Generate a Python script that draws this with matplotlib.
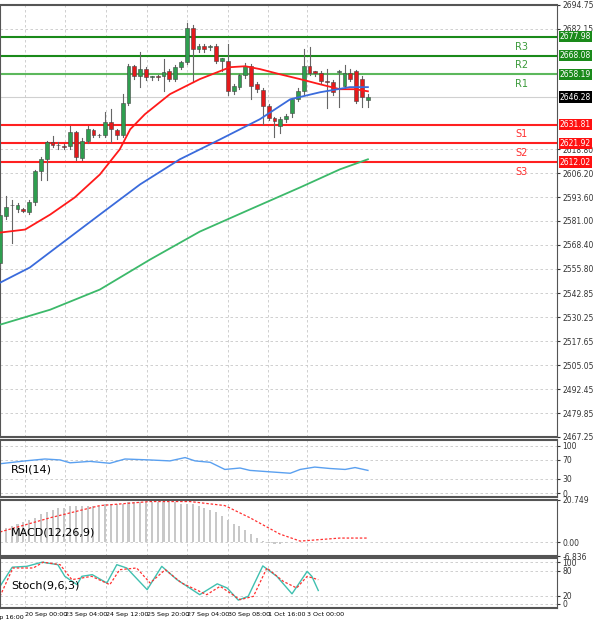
import numpy as np
import matplotlib.pyplot as plt
import matplotlib.transforms as mtransforms

# 蜡烛数据（4小时K线，按图读取）
opens = [2559.1, 2583.4, 2589.2, 2587.1, 2587.1, 2586.0, 2590.8, 2607.1, 2613.5, 2622.4, 2620.8, 2620.3,
         2620.3, 2627.7, 2614.0, 2623.0, 2628.8, 2626.1, 2626.1, 2633.0, 2628.8, 2626.1, 2643.0, 2662.5,
         2657.3, 2661.0, 2656.7, 2657.3, 2657.3, 2659.9, 2655.7, 2662.0, 2664.7, 2682.6, 2671.5, 2673.1,
         2672.6, 2673.1, 2665.2, 2665.2, 2649.3, 2651.5, 2657.8, 2662.5, 2653.0, 2649.9, 2641.4, 2635.1,
         2630.9, 2634.6, 2637.7, 2645.1, 2649.3, 2662.5, 2659.9, 2658.8, 2654.6, 2654.1, 2659.4, 2652.0,
         2658.8, 2659.9, 2655.7, 2644.6]
closes = [2584.4, 2588.6, 2589.2, 2589.2, 2586.5, 2590.8, 2607.1, 2613.5, 2622.4, 2620.8, 2620.8, 2619.8,
          2627.7, 2614.5, 2623.0, 2629.3, 2626.1, 2626.1, 2633.0, 2629.3, 2626.1, 2643.0, 2662.5, 2657.3,
          2661.0, 2656.7, 2656.7, 2656.7, 2659.4, 2655.7, 2662.0, 2664.7, 2682.6, 2671.5, 2673.1, 2671.5,
          2672.6, 2665.2, 2666.8, 2649.3, 2652.0, 2657.8, 2662.5, 2652.0, 2650.4, 2641.4, 2635.1, 2633.5,
          2634.6, 2636.2, 2645.1, 2649.3, 2662.5, 2658.8, 2658.8, 2654.6, 2654.1, 2648.8, 2659.4, 2658.8,
          2655.7, 2644.1, 2646.2, 2646.3]
highs = [2585.0, 2594.4, 2592.3, 2590.5, 2588.0, 2592.0, 2608.0, 2614.5, 2623.0, 2625.6, 2622.4, 2621.5,
         2630.9, 2628.5, 2624.5, 2631.0, 2629.5, 2627.0, 2638.3, 2639.8, 2629.5, 2647.8, 2663.5, 2663.0,
         2669.9, 2662.0, 2657.5, 2658.0, 2666.2, 2661.0, 2663.0, 2665.5, 2685.2, 2684.0, 2674.0, 2674.0,
         2673.5, 2674.0, 2667.0, 2674.2, 2653.0, 2658.5, 2664.0, 2663.5, 2654.0, 2651.0, 2642.5, 2636.0,
         2636.0, 2637.5, 2646.0, 2651.0, 2671.5, 2672.5, 2660.0, 2660.0, 2661.0, 2655.0, 2660.5, 2663.0,
         2661.0, 2660.5, 2657.5, 2648.0]
lows = [2557.0, 2582.0, 2569.6, 2586.0, 2585.5, 2584.5, 2589.5, 2602.4, 2602.4, 2620.0, 2618.7, 2619.0,
        2619.0, 2613.0, 2613.0, 2622.0, 2625.0, 2625.0, 2625.0, 2622.4, 2624.0, 2625.0, 2642.0, 2656.0,
        2651.5, 2655.0, 2655.5, 2655.5, 2649.3, 2654.5, 2654.5, 2661.0, 2663.5, 2654.1, 2670.0, 2670.0,
        2671.0, 2664.0, 2660.0, 2647.5, 2648.0, 2650.5, 2656.5, 2645.0, 2649.0, 2632.0, 2634.0, 2625.0,
        2627.5, 2633.0, 2636.0, 2644.0, 2648.0, 2658.0, 2657.5, 2653.5, 2640.5, 2647.5, 2640.9, 2651.0,
        2654.5, 2643.0, 2640.9, 2641.0]

# 均线（按图读取：K线序号, 价格）
ma_fast_x = [0, 4.3, 8.6, 12.8, 17.1, 20.5, 22.3, 24.8, 29.1, 34.2, 39.4, 42.0, 44.5, 47.9, 51.4, 54.8, 58.2, 60.8, 63.0]
ma_fast_y = [2574.9, 2576.5, 2584.4, 2593.4, 2605.5, 2618.7, 2629.3, 2637.2, 2647.8, 2655.7, 2662.0, 2662.5,
             2661.0, 2658.3, 2655.7, 2653.0, 2650.4, 2650.4, 2649.3]
ma_mid_x = [0, 5.1, 10.3, 17.1, 24.0, 30.8, 37.7, 44.5, 49.7, 54.8, 59.9, 63.0]
ma_mid_y = [2548.5, 2556.5, 2568.6, 2584.4, 2600.3, 2613.5, 2624.0, 2634.6, 2645.1, 2648.8, 2651.5, 2651.5]
ma_slow_x = [0, 8.6, 17.1, 25.7, 34.2, 42.8, 51.4, 58.2, 63.0]
ma_slow_y = [2526.4, 2534.3, 2544.9, 2560.7, 2575.4, 2587.1, 2598.7, 2608.2, 2613.5]

# 支撑阻力
res_names = ["R3", "R2", "R1"]
res_vals = [2677.98, 2668.08, 2658.19]
sup_names = ["S1", "S2", "S3"]
sup_vals = [2631.81, 2621.92, 2612.02]
last_price = 2646.28

price_ticks = [2694.75, 2682.15, 2618.80, 2606.20, 2593.60, 2581.00, 2568.40, 2555.80,
               2542.85, 2530.25, 2517.65, 2505.05, 2492.45, 2479.85, 2467.25]

# RSI(14)
rsi_x = [0, 4.3, 7.7, 10.3, 12.0, 15.4, 18.8, 21.4, 25.7, 29.1, 31.7, 33.4, 36.0, 38.5, 41.1, 42.8, 46.2,
         49.7, 51.4, 53.9, 56.5, 59.1, 60.8, 63.0]
rsi_y = [62, 68, 72, 70, 64, 67, 63, 72, 70, 68, 75, 68, 65, 50, 53, 48, 45, 42, 50, 55, 52, 50, 54, 48]

# MACD(12,26,9)
macd_hist = [6, 7, 8, 9, 10, 11, 12, 14, 15, 16, 17, 17, 18, 18, 18, 18, 18, 18, 19, 19, 19, 19, 20, 20,
             20, 20, 20, 20, 20, 20, 20, 19, 19, 19, 18, 17, 16, 15, 13, 11, 9, 8, 6, 4, 2, 0.5, -0.5, -1,
             -0.8, -0.5, -0.3, 0, 0, 0, 0, 0, 0, 0, 0, 0, 0, 0, 0, 0]
macd_sig_x = [0, 8.6, 17.1, 25.7, 32.5, 38.5, 42.8, 47.9, 51.4, 58.2, 63.0]
macd_sig_y = [5, 12, 18, 20, 20, 18, 12, 4, 0.5, 2, 2]

# Stoch(9,6,3)
sto_k_x = [0, 2.1, 4.6, 7.2, 9.9, 11.1, 13.2, 14.0, 15.8, 18.3, 20.0, 21.7, 25.2, 27.7, 30.3, 34.2, 37.2,
           38.9, 40.8, 42.5, 45.0, 47.4, 50.0, 52.6, 53.4, 54.5]
sto_k_y = [42, 88, 90, 100, 94, 66, 46, 66, 70, 50, 94, 86, 34, 90, 58, 22, 48, 38, 9, 18, 91, 66, 24, 78, 66, 32]
sto_d_x = [0, 2.2, 5.7, 7.4, 10.3, 12.3, 15.7, 18.8, 20.5, 23.4, 25.7, 28.3, 31.1, 35.4, 37.7, 41.1, 43.4,
           45.7, 48.5, 50.8, 52.6, 54.5]
sto_d_y = [18, 86, 86, 100, 94, 58, 66, 46, 82, 86, 50, 82, 50, 22, 42, 10, 18, 86, 54, 38, 66, 58]

date_ticks = [4.3, 11.1, 18.2, 25.2, 32.0, 39.0, 45.9, 52.6]
date_labels = ["20 Sep 00:00", "23 Sep 04:00", "24 Sep 12:00", "25 Sep 20:00",
               "27 Sep 04:00", "30 Sep 08:00", "1 Oct 16:00", "3 Oct 00:00"]
first_label = "19 Sep 16:00"

XMAX = 557 / 5.84
fig = plt.figure(figsize=(6, 6.25), dpi=100)
W, H = 600, 625


def make_ax(top, bottom):
    return fig.add_axes([0, 1 - bottom / H, 557 / W, (bottom - top) / H])


ax = make_ax(5, 437)
ax_rsi = make_ax(440, 497)
ax_macd = make_ax(500, 556)
ax_sto = make_ax(558, 608)

for a in (ax, ax_rsi, ax_macd, ax_sto):
    a.set_xticks(date_ticks)
    a.grid(True, color="#c8c8c8", linestyle=(0, (3, 3)), linewidth=0.6)
    a.yaxis.tick_right()
    a.tick_params(axis="y", labelsize=5.5, length=2, pad=2, colors="#333333")
    a.tick_params(axis="x", length=0, labelbottom=False)
    for s in a.spines.values():
        s.set_color("#555555")
    for s in ("top", "bottom"):
        a.spines[s].set_linewidth(1.5)

# 主图
ax.set_ylim(2467.25, 2694.75)
ax.set_yticks(price_ticks)
ax.set_yticklabels(["%.2f" % v for v in price_ticks])
xs = np.arange(len(opens))
for i in xs:
    o, c, h, l = opens[i], closes[i], highs[i], lows[i]
    col = "#2e9e4f" if c >= o else "#e31a1c"
    ax.plot([i, i], [l, h], color="#666666", linewidth=0.8, zorder=3)
    ax.add_patch(plt.Rectangle((i - 0.33, min(o, c)), 0.66, max(abs(c - o), 0.4),
                               facecolor=col, edgecolor="#444444", linewidth=0.4, zorder=4))
ax.plot(ma_fast_x, ma_fast_y, color="#ff1a1a", linewidth=1.3, zorder=5)
ax.plot(ma_mid_x, ma_mid_y, color="#3a6bdc", linewidth=1.3, zorder=5)
ax.plot(ma_slow_x, ma_slow_y, color="#3cb96a", linewidth=1.3, zorder=5)

trans = mtransforms.blended_transform_factory(ax.transAxes, ax.transData)
res_cols = ["#1a8a1a", "#1a8a1a", "#5cb85c"]
for n, v, c in zip(res_names, res_vals, res_cols):
    ax.axhline(v, color=c, linewidth=1.5, zorder=2)
    ax.text(0.925, v - 2.5, n, transform=trans, color="#3a9a3a", fontsize=7, ha="left", va="top")
    ax.text(1.005, v, "%.2f" % v, transform=trans, fontsize=5.5, color="white", va="center", ha="left",
            bbox=dict(boxstyle="square,pad=0.15", fc="#1a8a1a", ec="none"), zorder=10, clip_on=False)
for n, v in zip(sup_names, sup_vals):
    ax.axhline(v, color="#ff2020", linewidth=1.5, zorder=2)
    ax.text(0.925, v - 2.5, n, transform=trans, color="#ff3030", fontsize=7, ha="left", va="top")
    ax.text(1.005, v, "%.2f" % v, transform=trans, fontsize=5.5, color="white", va="center", ha="left",
            bbox=dict(boxstyle="square,pad=0.15", fc="#ff1010", ec="none"), zorder=10, clip_on=False)
ax.axhline(last_price, color="#d0d0d0", linewidth=0.8, zorder=1)
ax.text(1.005, last_price, "%.2f" % last_price, transform=trans, fontsize=5.5, color="white", va="center",
        ha="left", bbox=dict(boxstyle="square,pad=0.15", fc="black", ec="none"), zorder=10, clip_on=False)

# RSI
ax_rsi.set_ylim(-8, 112)
ax_rsi.set_yticks([0, 30, 70, 100])
ax_rsi.plot(rsi_x, rsi_y, color="#5aa0f0", linewidth=1)
ax_rsi.text(0.02, 0.48, "RSI(14)", transform=ax_rsi.transAxes, fontsize=8, va="center")

# MACD
ax_macd.set_ylim(-6.836, 20.749)
ax_macd.set_yticks([20.749, 0.0, -6.836])
ax_macd.set_yticklabels(["20.749", "0.00", "-6.836"])
ax_macd.bar(xs, macd_hist, width=0.35, color="#c8c8c8")
ax_macd.plot(macd_sig_x, macd_sig_y, color="#ff3030", linewidth=0.9, linestyle=(0, (2, 1.5)))
ax_macd.text(0.02, 0.42, "MACD(12,26,9)", transform=ax_macd.transAxes, fontsize=8, va="center")

# Stoch
ax_sto.set_ylim(-10, 110)
ax_sto.set_yticks([0, 20, 80, 100])
ax_sto.plot(sto_k_x, sto_k_y, color="#40c0b0", linewidth=1)
ax_sto.plot(sto_d_x, sto_d_y, color="#ff3030", linewidth=0.9, linestyle=(0, (2, 1.5)))
ax_sto.text(0.02, 0.45, "Stoch(9,6,3)", transform=ax_sto.transAxes, fontsize=8, va="center")

ax_sto.tick_params(axis="x", labelbottom=True, labelsize=4.6, pad=3)
ax_sto.set_xticklabels(date_labels, ha="left")
# 左侧被截断的第一个日期
fig.text(24 / W, 1 - 617 / H, first_label, fontsize=4.6, ha="right", va="center")

for a in (ax, ax_rsi, ax_macd, ax_sto):
    a.set_xlim(0, XMAX)

fig.savefig("out.png", dpi=100, facecolor="white")
